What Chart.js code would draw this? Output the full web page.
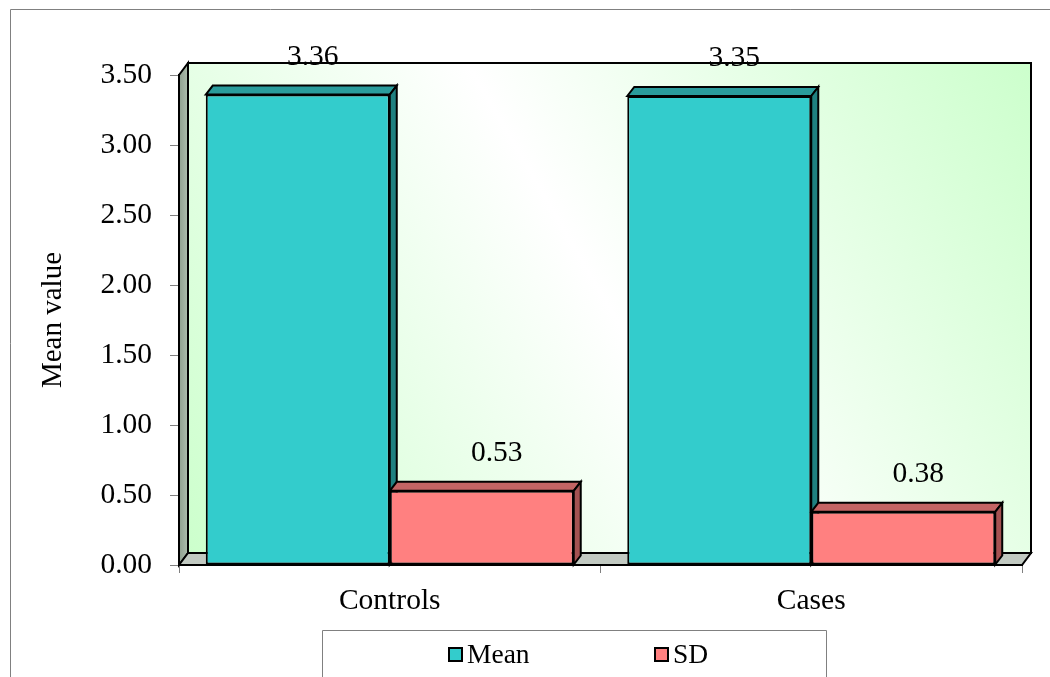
<!DOCTYPE html>
<html>
<head>
<meta charset="utf-8">
<script src="https://cdn.jsdelivr.net/npm/chart.js@4.4.1/dist/chart.umd.min.js"></script>
<style>
  html, body { margin: 0; padding: 0; background: #fff; overflow: hidden; }
  #wrap { position: relative; width: 1050px; height: 677px; }
  canvas { display: block; }
</style>
</head>
<body>
<div id="wrap"><canvas id="c" width="1050" height="677"></canvas></div>
<script>
// Group labels, series and axis ticks
const categories = ['Controls', 'Cases'];
const seriesNames = ['Mean', 'SD'];
const meanValues = [3.36, 3.35];
const sdValues = [0.53, 0.38];
const yTicks = [0, 0.5, 1, 1.5, 2, 2.5, 3, 3.5];
const yTitle = 'Mean value';

const FONT = "'Liberation Serif', 'Times New Roman', serif";

// Face colours for the pseudo-3D bars: front, top, side
const faceColors = [
  { front: '#33CCCC', top: '#2A9C9C', side: '#1F8080' },
  { front: '#FF8080', top: '#C46464', side: '#A45252' }
];

// Depth of the walls and of the bars (px to the right, px upwards)
const WALL_DX = 9, WALL_DY = 12;
const BAR_DX = 7, BAR_DY = 9;

function poly(ctx, pts, fill, stroke, lw) {
  ctx.beginPath();
  ctx.moveTo(pts[0][0], pts[0][1]);
  for (let i = 1; i < pts.length; i++) ctx.lineTo(pts[i][0], pts[i][1]);
  ctx.closePath();
  if (fill) { ctx.fillStyle = fill; ctx.fill(); }
  if (stroke) { ctx.strokeStyle = stroke; ctx.lineWidth = lw || 1; ctx.stroke(); }
}

const scenePlugin = {
  id: 'scene3d',
  beforeDraw(chart) {
    const { ctx, chartArea: a } = chart;
    ctx.save();
    ctx.lineJoin = 'miter';
    // outer frame
    ctx.strokeStyle = '#808080';
    ctx.lineWidth = 1;
    ctx.beginPath();
    ctx.moveTo(10.5, 677);
    ctx.lineTo(10.5, 9.5);
    ctx.lineTo(1050, 9.5);
    ctx.stroke();

    const bl = [a.left + WALL_DX, a.bottom - WALL_DY];
    const tr = [a.right + WALL_DX, a.top - WALL_DY];
    // back wall with diagonal gradient
    const g = ctx.createLinearGradient(bl[0], bl[1], tr[0], tr[1]);
    g.addColorStop(0, '#CCFFCC');
    g.addColorStop(0.5, '#FFFFFF');
    g.addColorStop(1, '#CCFFCC');
    poly(ctx, [[bl[0], tr[1]], [tr[0], tr[1]], [tr[0], bl[1]], [bl[0], bl[1]]], g, '#000', 2);
    // left wall
    const lg = ctx.createLinearGradient(a.left, 0, a.left + WALL_DX, 0);
    lg.addColorStop(0, '#8FA08F');
    lg.addColorStop(1, '#AEBEAE');
    poly(ctx, [[a.left, a.top], [a.left + WALL_DX, a.top - WALL_DY],
               [a.left + WALL_DX, a.bottom - WALL_DY], [a.left, a.bottom]], lg, '#000', 2);
    // floor
    poly(ctx, [[a.left, a.bottom], [a.left + WALL_DX, a.bottom - WALL_DY],
               [a.right + WALL_DX, a.bottom - WALL_DY], [a.right, a.bottom]], '#C2CAC2', '#000', 2);
    ctx.restore();
  },
  beforeDatasetsDraw(chart) {
    const ctx = chart.ctx;
    ctx.save();
    ctx.lineJoin = 'miter';
    chart.data.datasets.forEach((ds, di) => {
      const meta = chart.getDatasetMeta(di);
      const c = faceColors[di];
      meta.data.forEach(bar => {
        const l = bar.x - bar.width / 2, r = bar.x + bar.width / 2;
        const t = bar.y, b = bar.base;
        poly(ctx, [[l, t], [l + BAR_DX, t - BAR_DY], [r + BAR_DX, t - BAR_DY], [r, t]], c.top, '#000', 2);
        poly(ctx, [[r, t], [r + BAR_DX, t - BAR_DY], [r + BAR_DX, b - BAR_DY], [r, b]], c.side, '#000', 2);
      });
    });
    ctx.restore();
  },
  afterDatasetsDraw(chart) {
    const ctx = chart.ctx;
    ctx.save();
    ctx.font = '29.5px ' + FONT;
    ctx.fillStyle = '#000';
    ctx.textAlign = 'center';
    ctx.textBaseline = 'alphabetic';
    chart.data.datasets.forEach((ds, di) => {
      chart.getDatasetMeta(di).data.forEach((bar, i) => {
        ctx.fillText(ds.data[i].toFixed(2), bar.x + 15, bar.y - 30);
      });
    });
    ctx.restore();
  },
  afterDraw(chart) {
    const ctx = chart.ctx;
    ctx.save();
    // legend frame
    ctx.strokeStyle = '#808080';
    ctx.lineWidth = 1;
    ctx.beginPath();
    ctx.moveTo(322.5, 677);
    ctx.lineTo(322.5, 630.5);
    ctx.lineTo(826.5, 630.5);
    ctx.lineTo(826.5, 677);
    ctx.stroke();
    // legend entries
    const itemX = [448, 654];
    const midY = 655;
    ctx.font = '27.5px ' + FONT;
    ctx.textBaseline = 'middle';
    ctx.textAlign = 'left';
    chart.data.datasets.forEach((ds, di) => {
      const x = itemX[di];
      ctx.fillStyle = faceColors[di].front;
      ctx.fillRect(x + 1, midY - 7, 13, 13);
      ctx.strokeStyle = '#000';
      ctx.lineWidth = 2;
      ctx.strokeRect(x + 1, midY - 7, 13, 13);
      ctx.fillStyle = '#000';
      ctx.fillText(ds.label, x + 19, midY + 1);
    });
    ctx.restore();
  }
};

new Chart(document.getElementById('c'), {
  type: 'bar',
  data: {
    labels: categories,
    datasets: [
      { label: seriesNames[0], data: meanValues, backgroundColor: faceColors[0].front,
        borderColor: '#000', borderWidth: 2, borderSkipped: false },
      { label: seriesNames[1], data: sdValues, backgroundColor: faceColors[1].front,
        borderColor: '#000', borderWidth: 2, borderSkipped: false }
    ]
  },
  options: {
    responsive: false,
    animation: false,
    events: [],
    layout: { padding: { left: 0, top: 75, right: 28, bottom: 62 } },
    datasets: { bar: { categoryPercentage: 0.873, barPercentage: 1.0 } },
    plugins: { legend: { display: false }, tooltip: { enabled: false } },
    scales: {
      x: {
        grid: { offset: true, drawOnChartArea: false, tickLength: 8, color: '#808080' },
        border: { display: true, color: '#000', width: 2 },
        ticks: { color: '#000', font: { family: FONT, size: 29.5 }, padding: 11 },
        afterFit(s) { s.height = 50; }
      },
      y: {
        min: 0,
        max: 3.5,
        afterBuildTicks(s) { s.ticks = yTicks.map(v => ({ value: v })); },
        grid: { drawOnChartArea: false, tickLength: 9, color: '#808080' },
        border: { display: true, color: '#000', width: 2 },
        ticks: { color: '#000', font: { family: FONT, size: 29.5 }, padding: 18,
                 callback: v => Number(v).toFixed(2) },
        title: { display: true, text: yTitle, color: '#000',
                 font: { family: FONT, size: 29 }, padding: { top: 36, bottom: 0 } },
        afterFit(s) { s.width = 179; }
      }
    }
  },
  plugins: [scenePlugin]
});
</script>
</body>
</html>
